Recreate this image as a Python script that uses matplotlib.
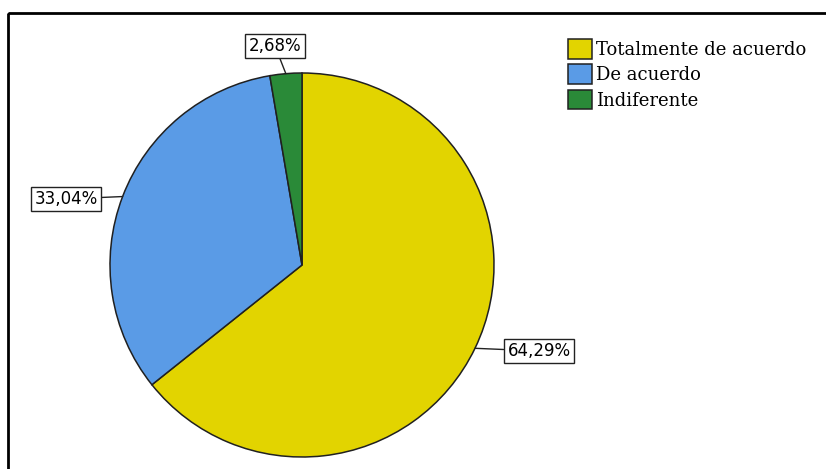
import numpy as np
import matplotlib
matplotlib.use("Agg")
import matplotlib.pyplot as plt
from matplotlib.patches import Rectangle

categories = ["Totalmente de acuerdo", "De acuerdo", "Indiferente"]
values = [64.29, 33.04, 2.68]
colors = ["#E2D400", "#5A9BE6", "#2A8A38"]
label_pos = [(539, 351), (66, 199), (275, 46)]  # label box centres, image px

W, H = 826, 469
fig = plt.figure(figsize=(W / 100, H / 100), dpi=100)
ax = fig.add_axes([0, 0, 1, 1])
ax.set_xlim(0, W)
ax.set_ylim(0, H)
ax.set_aspect("equal")
ax.axis("off")

cx, cy, r = 302, H - 265, 192
wedges, _ = ax.pie(values, colors=colors, startangle=90, counterclock=False,
                   center=(cx, cy), radius=r,
                   wedgeprops=dict(edgecolor="#202020", linewidth=1.1))
ax.set_xlim(0, W)
ax.set_ylim(0, H)

for w, v, (lx, ly) in zip(wedges, values, label_pos):
    mid = np.deg2rad((w.theta1 + w.theta2) / 2)
    ex, ey = cx + r * np.cos(mid), cy + r * np.sin(mid)
    ax.annotate(f"{v:.2f}".replace(".", ",") + "%", xy=(ex, ey), xytext=(lx, H - ly),
                ha="center", va="center", fontsize=12, family="DejaVu Sans",
                bbox=dict(boxstyle="square,pad=0.2", fc="white", ec="#222222", lw=1),
                arrowprops=dict(arrowstyle="-", color="#222222", lw=1,
                                shrinkA=0, shrinkB=0))

leg = ax.legend(wedges, categories, loc="upper left",
                bbox_to_anchor=(559 / W, 1 - 30 / H), frameon=False,
                prop=dict(family="DejaVu Serif", size=13),
                handlelength=1.3, handleheight=1.3, handletextpad=0.25,
                labelspacing=0.3, borderpad=0)

fig.patches.append(Rectangle((8, H - 13), 900, -600, transform=None,
                             fill=False, ec="black", lw=2))
fig.savefig("out.png", dpi=100, facecolor="white")
